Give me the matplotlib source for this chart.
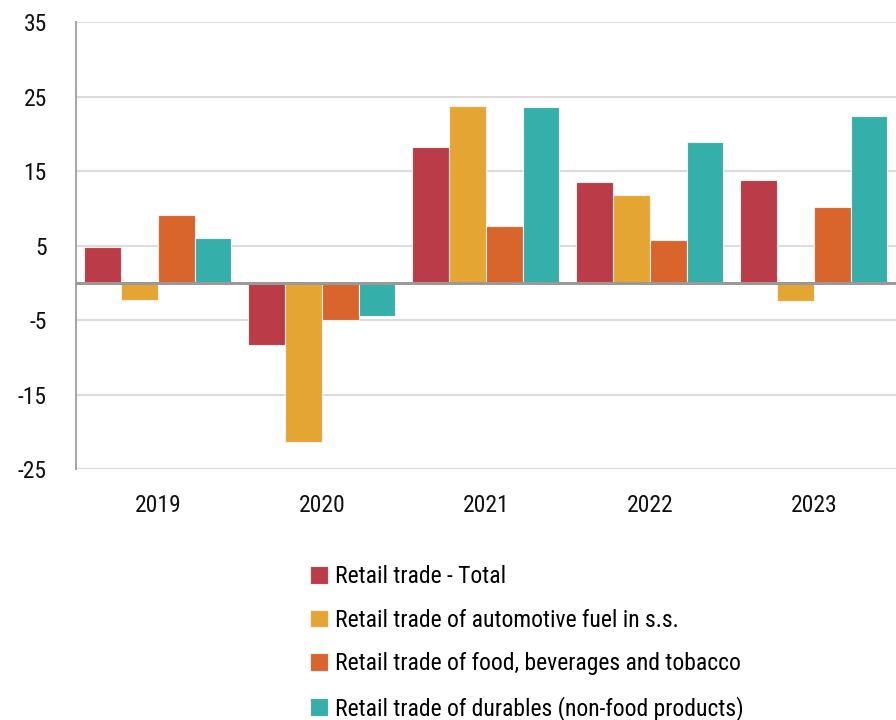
import matplotlib
matplotlib.use("Agg")
import matplotlib.pyplot as plt
import numpy as np
from matplotlib import font_manager

available = {f.name for f in font_manager.fontManager.ttflist}
preferred = ["Roboto Condensed", "Liberation Sans Narrow", "Open Sans Condensed", "Roboto"]
family = next((f for f in preferred if f in available), "DejaVu Sans")
plt.rcParams['font.family'] = [family, 'DejaVu Sans']

years = ["2019", "2020", "2021", "2022", "2023"]
series_names = [
    "Retail trade - Total",
    "Retail trade of automotive fuel in s.s.",
    "Retail trade of food, beverages and tobacco",
    "Retail trade of durables (non-food products)",
]
total = [4.9, -8.3, 18.3, 13.5, 13.9]
fuel = [-2.3, -21.3, 23.8, 11.8, -2.4]
food = [9.2, -4.9, 7.7, 5.8, 10.2]
durables = [6.0, -4.4, 23.6, 18.9, 22.4]
colors = ["#BC3B48", "#E5A533", "#D9642C", "#34AFAA"]
yticks = [35, 25, 15, 5, -5, -15, -25]

fig = plt.figure(figsize=(8.96, 7.2), dpi=100)
ax = fig.add_axes([0.0846, 0.3482, 0.9154, 0.6208])

x = np.arange(len(years))
width = 0.224
handles = []
for i, (vals, name, col) in enumerate(zip([total, fuel, food, durables], series_names, colors)):
    b = ax.bar(x + (i - 1.5) * width, vals, width, color=col, label=name,
               edgecolor="#f6f0ee", linewidth=0.8, zorder=3)
    handles.append(b)

ax.set_xlim(-0.5, 4.5)
ax.set_ylim(-25, 35)
ax.set_yticks(yticks)
ax.set_yticklabels([str(t) for t in yticks])
ax.set_xticks(x)
ax.set_xticklabels(years)
ax.grid(axis="y", color="#dcdcdc", linewidth=1.5, zorder=0)
ax.axhline(0, color="#999999", linewidth=2.2, zorder=4)
for s in ["top", "right", "bottom"]:
    ax.spines[s].set_visible(False)
ax.spines["left"].set_color("#a6a6a6")
ax.spines["left"].set_linewidth(1.5)
ax.tick_params(axis="both", length=0, labelsize=17, colors="#111111")
ax.tick_params(axis="y", pad=21)
ax.tick_params(axis="x", pad=18)

fig.legend(handles=handles, labels=series_names, loc="upper left",
           bbox_to_anchor=(0.346, 0.215), frameon=False, fontsize=17,
           handlelength=0.75, handleheight=0.75, handletextpad=0.3,
           labelspacing=0.87, borderaxespad=0, borderpad=0)

fig.savefig("out.png", dpi=100)
